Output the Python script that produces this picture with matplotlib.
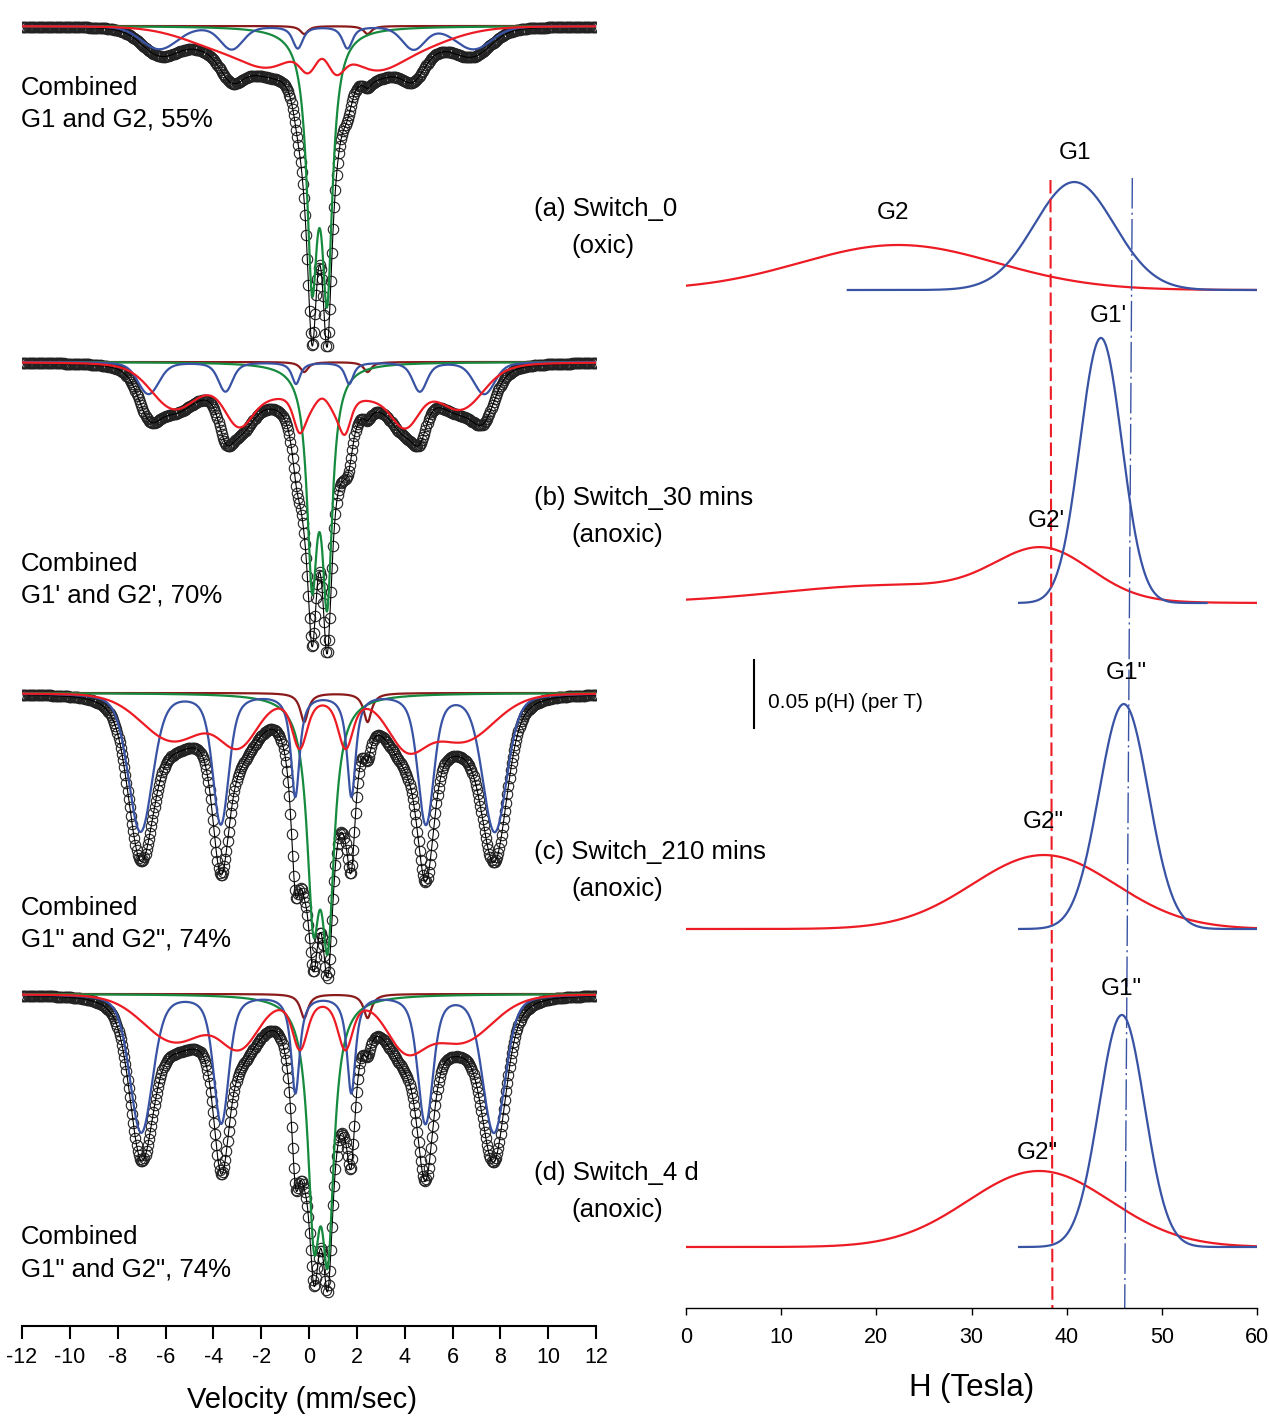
import matplotlib
matplotlib.use('Agg')
import matplotlib.pyplot as plt
import numpy as np

plt.rcParams['font.family'] = ['Liberation Sans', 'DejaVu Sans']
plt.rcParams['axes.unicode_minus'] = False

W, H = 1269, 1418

# ---- text ----
SAMPLES = ['(a) Switch_0', '(b) Switch_30 mins', '(c) Switch_210 mins', '(d) Switch_4 d']
CONDITIONS = ['(oxic)', '(anoxic)', '(anoxic)', '(anoxic)']
FIT_NOTES = [('Combined', 'G1 and G2, 55%'),
             ('Combined', "G1' and G2', 70%"),
             ('Combined', 'G1" and G2", 74%'),
             ('Combined', 'G1" and G2", 74%')]
G1_LABELS = ['G1', "G1'", 'G1"', 'G1"']
G2_LABELS = ['G2', "G2'", 'G2"', 'G2"']

# ---- hyperfine field distributions p(H): gaussian terms (centre T, sigma T, peak per T) ----
G1_TERMS = [[(40.8, 4.2, 0.0794)],
            [(43.6, 2.2, 0.1949)],
            [(46.0, 2.6, 0.1654)],
            [(45.8, 2.4, 0.1706)]]
G2_TERMS = [[(22.3, 10.3, 0.0331)],
            [(37.6, 5.0, 0.0353), (22.0, 12.0, 0.0132)],
            [(37.6, 7.5, 0.0544)],
            [(37.1, 7.5, 0.0559)]]
G1_RANGE = [(17, 60), (35, 54.7), (35, 60), (35, 60)]
G2_RANGE = [(0, 60), (0, 60), (0, 60), (0, 60)]

# ---- Mossbauer fit components (mm/s, absorption in arbitrary units) ----
BLUE_SHIFT = [0.44, 0.44, 0.48, 0.48]
BLUE_QUAD = [-0.13, -0.13, -0.12, -0.12]
BLUE_HWHM = [0.19, 0.19, 0.19, 0.19]
BLUE_AREA = [192, 166, 804, 760]

RED_SHIFT = [0.45, 0.45, 0.47, 0.47]
RED_QUAD = [-0.10, -0.10, -0.10, -0.10]
RED_HWHM = [0.25, 0.25, 0.25, 0.25]
RED_AREA = [420, 720, 660, 660]

GREEN_POS = [(0.13, 0.76), (0.13, 0.76), (0.18, 0.79), (0.21, 0.79)]
GREEN_HWHM = [0.27, 0.26, 0.32, 0.31]
GREEN_DEPTH = [(232, 245), (200, 220), (196, 218), (209, 227)]

FE2_POS = (-0.20, 2.45)
FE2_HWHM = 0.20
FE2_DEPTH = [8, 10, 29, 24]

# sextet line positions per tesla, intensity ratios, quadrupole sign
LINE_SLOPE = np.array([-0.1610, -0.0932, -0.0255, 0.0255, 0.0932, 0.1610])
LINE_RATIO = np.array([3, 2, 1, 1, 2, 3])
QUAD_SIGN = np.array([1, -1, -1, -1, -1, 1])

BLUE = '#3953a4'
RED = '#ed1c24'
GREEN = '#168a3e'
DARKRED = '#8b1a1a'

# layout (pixels)
LEFT_BASE = [26, 362, 693, 994]
RIGHT_BASE = [290, 603, 929, 1247]
P_SCALE = 68 / 0.05


def gauss_sum(h, terms):
    out = np.zeros_like(h)
    for c, s, a in terms:
        out += a * np.exp(-(h - c) ** 2 / (2 * s ** 2))
    return out


def sextet(v, terms, delta, eps, hw, area):
    hgrid = np.linspace(0, 60, 241)
    w = gauss_sum(hgrid, terms)
    w = w / w.sum()
    out = np.zeros_like(v)
    for s, r, q in zip(LINE_SLOPE, LINE_RATIO, QUAD_SIGN):
        pos = delta + q * eps + s * hgrid
        lor = hw / np.pi / ((v[:, None] - pos[None, :]) ** 2 + hw ** 2)
        out += r * (lor * w[None, :]).sum(axis=1)
    return area * out / LINE_RATIO.sum()


def doublet(v, pos, hw, depth):
    out = np.zeros_like(v)
    for c, d in zip(pos, depth):
        out += d * hw ** 2 / ((v - c) ** 2 + hw ** 2)
    return out


def components(v, i):
    blue = sextet(v, G1_TERMS[i], BLUE_SHIFT[i], BLUE_QUAD[i], BLUE_HWHM[i], BLUE_AREA[i])
    red = sextet(v, G2_TERMS[i], RED_SHIFT[i], RED_QUAD[i], RED_HWHM[i], RED_AREA[i])
    green = doublet(v, GREEN_POS[i], GREEN_HWHM[i], GREEN_DEPTH[i])
    fe2 = doublet(v, FE2_POS, FE2_HWHM, (FE2_DEPTH[i], FE2_DEPTH[i]))
    return blue, red, green, fe2


fig = plt.figure(figsize=(W / 100, H / 100), dpi=100)

# ---------------- left: spectra ----------------
axl = fig.add_axes([22 / W, (H - 1326) / H, 574 / W, 1326 / H])
v_fit = np.linspace(-12, 12, 1500)
v_dat = np.linspace(-12, 12, 512)

for i in range(4):
    base = LEFT_BASE[i]
    blue, red, green, fe2 = components(v_fit, i)
    total = blue + red + green + fe2
    db, dr, dg, df = components(v_dat, i)
    axl.plot(v_dat, base + db + dr + dg + df, 'o', ms=7.5, mfc='none', mec='#222222', mew=0.8, zorder=2)
    axl.plot(v_fit, base + total, color='black', lw=0.8, zorder=3)
    axl.plot(v_fit, base + fe2, color=DARKRED, lw=1.6, zorder=4)
    axl.plot(v_fit, base + green, color=GREEN, lw=1.6, zorder=5)
    axl.plot(v_fit, base + blue, color=BLUE, lw=1.6, zorder=6)
    axl.plot(v_fit, base + red, color=RED, lw=1.6, zorder=7)

axl.set_xlim(-12, 12)
axl.set_ylim(1326, 0)
axl.set_xticks(np.arange(-12, 13, 2))
for sp in ['top', 'left', 'right']:
    axl.spines[sp].set_visible(False)
axl.spines['bottom'].set_linewidth(1.5)
axl.set_yticks([])
axl.tick_params(axis='x', direction='out', length=9, width=1.5, labelsize=15.5, pad=6)
axl.patch.set_visible(False)

# ---------------- right: p(H) ----------------
axr = fig.add_axes([686 / W, (H - 1308) / H, 571 / W, 1308 / H])
for i in range(4):
    base = RIGHT_BASE[i]
    h2 = np.linspace(G2_RANGE[i][0], G2_RANGE[i][1], 400)
    axr.plot(h2, base - gauss_sum(h2, G2_TERMS[i]) * P_SCALE, color=RED, lw=1.6)
    h1 = np.linspace(G1_RANGE[i][0], G1_RANGE[i][1], 400)
    axr.plot(h1, base - gauss_sum(h1, G1_TERMS[i]) * P_SCALE, color=BLUE, lw=1.6)

red_ref, = axr.plot([38.3, 38.5], [180, 1308], color=RED, lw=1.5)
red_ref.set_dashes([6.5, 2.5])
blue_ref, = axr.plot([46.9, 46.1], [178, 1308], color=BLUE, lw=1.0)
blue_ref.set_dashes([22, 3, 1.5, 3])

# scale bar
axr.plot([7.15, 7.15], [660, 728], color='black', lw=1.5, clip_on=False)
axr.text(8.6, 703, '0.05 p(H) (per T)', fontsize=15, va='center', ha='left')

g1_pos = [(40.9, 153), (44.4, 316), (46.3, 673), (45.7, 989)]
g2_pos = [(21.8, 213), (37.9, 521), (37.5, 822), (36.9, 1153)]
for i in range(4):
    axr.text(g1_pos[i][0], g1_pos[i][1], G1_LABELS[i], fontsize=17.5, ha='center', va='center')
    axr.text(g2_pos[i][0], g2_pos[i][1], G2_LABELS[i], fontsize=17.5, ha='center', va='center')

axr.set_xlim(0, 60)
axr.set_ylim(1308, 0)
axr.set_xticks(np.arange(0, 61, 10))
for sp in ['top', 'left', 'right']:
    axr.spines[sp].set_visible(False)
axr.spines['bottom'].set_linewidth(1.0)
axr.set_yticks([])
axr.tick_params(axis='x', direction='out', length=5, width=1.0, labelsize=15.5, pad=9)
axr.patch.set_visible(False)

# ---------------- labels ----------------
def ftext(x, y, s, **kw):
    fig.text(x / W, 1 - y / H, s, va='center', **kw)

sample_y = [209, 498, 852, 1173]
note_y = [88, 564, 908, 1237]
for i in range(4):
    ftext(534, sample_y[i], SAMPLES[i], fontsize=18.5)
    ftext(571, sample_y[i] + 37, CONDITIONS[i], fontsize=18.5)
    ftext(21, note_y[i], FIT_NOTES[i][0], fontsize=18.5)
    ftext(21, note_y[i] + 32, FIT_NOTES[i][1], fontsize=18.5)

ftext(302, 1400, 'Velocity (mm/sec)', fontsize=21, ha='center')
ftext(972, 1388, 'H (Tesla)', fontsize=22.5, ha='center')

fig.savefig('out.png', dpi=100)
